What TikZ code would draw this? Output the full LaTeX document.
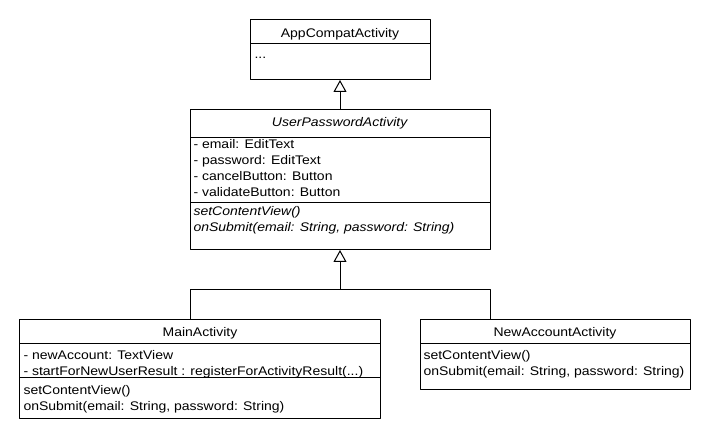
\documentclass[tikz,border=0pt]{standalone}
\usepackage{fontspec}
\setmainfont[FakeStretch=1.12]{Liberation Sans}
\usetikzlibrary{arrows.meta}
\begin{document}
\begin{tikzpicture}[x=1bp,y=-1bp,line width=1bp,line join=round,
	font=\fontsize{12.5bp}{16bp}\selectfont,
	box/.style={draw,inner sep=0pt,outer sep=0pt},
	ttl/.style={anchor=base,inner sep=0pt},
	txt/.style={anchor=base west,inner sep=0pt},
	inh/.style={-{Triangle[open,length=12bp,width=13bp]}}]
	\useasboundingbox (0,0) rectangle (710,440);
	% AppCompatActivity
	\node[box,minimum width=180bp,minimum height=60bp] (app) at (340,50) {};
	\node[ttl] (appT) at (340,38) {AppCompatActivity};
	\draw (250,44) -- (430,44);
	\node[txt] (appA) at (254,59) {...};
	% UserPasswordActivity
	\node[box,minimum width=300bp,minimum height=140bp] (upa) at (340,180) {};
	\node[ttl] (upaT) at (340,127) {\textit{UserPasswordActivity}};
	\draw (190,138) -- (490,138);
	\node[txt] (upaA1) at (193,149) {- email: EditText};
	\node[txt] (upaA2) at (193,165) {- password: EditText};
	\node[txt] (upaA3) at (193,181) {- cancelButton: Button};
	\node[txt] (upaA4) at (193,197) {- validateButton: Button};
	\draw (190,203) -- (490,203);
	\node[txt] (upaM1) at (193,216) {\textit{setContentView()}};
	\node[txt] (upaM2) at (193,232) {\textit{onSubmit(email: String, password: String)}};
	% MainActivity
	\node[box,minimum width=360bp,minimum height=98bp] (main) at (200,369) {};
	\node[ttl] (mainT) at (200,337) {MainActivity};
	\draw (20,343) -- (380,343);
	\node[txt] (mainA1) at (23,359) {- newAccount: TextView};
	\node[txt] (mainA2) at (23,375) {- startForNewUserResult : registerForActivityResult(...)};
	\draw (20,377) -- (380,377);
	\node[txt] (mainM1) at (23,394) {setContentView()};
	\node[txt] (mainM2) at (23,410) {onSubmit(email: String, password: String)};
	% NewAccountActivity
	\node[box,minimum width=270bp,minimum height=69bp] (newacc) at (555,354.5) {};
	\node[ttl] (newaccT) at (555,337) {NewAccountActivity};
	\draw (420,343) -- (690,343);
	\node[txt] (newaccM1) at (423,359) {setContentView()};
	\node[txt] (newaccM2) at (423,375) {onSubmit(email: String, password: String)};
	% inheritance
	\coordinate (fork) at (340,289.5);
	\draw[inh] (upa.north) -- (app.south);
	\draw[inh] (fork) -- (upa.south);
	\draw (main.north -| 190,0) |- (fork) -| (newacc.north -| 490,0);
\end{tikzpicture}
\end{document}
